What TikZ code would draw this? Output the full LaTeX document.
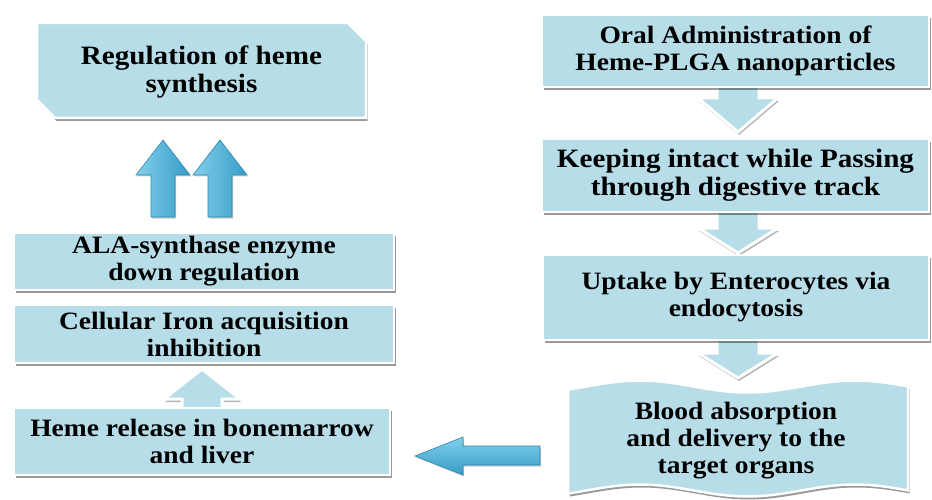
\documentclass[tikz,border=0pt]{standalone}
\usepackage{fontspec}
\newfontfamily\boxfont{Liberation Serif}[FakeStretch=1.1]
\usetikzlibrary{shadows}
\definecolor{boxblue}{RGB}{183,221,232}
\definecolor{arrowL}{RGB}{130,208,235}
\definecolor{arrowD}{RGB}{55,155,198}
\definecolor{arrowE}{RGB}{45,135,175}
\newcommand{\boxtext}{\boxfont\bfseries\fontsize{25}{27}\selectfont}
\newcommand{\bigboxtext}{\boxfont\bfseries\fontsize{26.5}{28}\selectfont}
\tikzset{
  boxshape/.style={fill=boxblue, draw=white, line width=2.5pt,
    drop shadow={shadow xshift=1.5pt, shadow yshift=-3pt, fill=black, opacity=0.4}},
  rectbox/.style={boxshape, rectangle, inner sep=0pt, align=center, font=\boxtext, text=black},
  txt/.style={inner sep=0pt, align=center, font=\boxtext, text=black},
  hollowarrow/.style={fill=boxblue, draw=white, line width=3pt, line join=miter,
    drop shadow={shadow xshift=1pt, shadow yshift=-3pt, fill=black, opacity=0.3}},
  solidarrowv/.style={left color=arrowL, right color=arrowD, draw=arrowE, line width=0.6pt,
    drop shadow={shadow xshift=1pt, shadow yshift=-1.5pt, fill=black, opacity=0.2}},
  solidarrowh/.style={top color=arrowL, bottom color=arrowD, draw=arrowE, line width=0.6pt,
    drop shadow={shadow xshift=1pt, shadow yshift=-1.5pt, fill=black, opacity=0.2}}
}
% hollow down arrow: centre x, shaft top, head top, tip
\newcommand{\hollowdown}[4]{%
  \path[hollowarrow] (#1-21,#2) -- (#1+21,#2) -- (#1+21,#3) -- (#1+40,#3) -- (#1,#4)
    -- (#1-40,#3) -- (#1-21,#3) -- cycle;}
% solid up arrow: centre x
\newcommand{\solidup}[1]{%
  \path[solidarrowv] (#1-12,217) -- (#1-12,175) -- (#1-27,175) -- (#1,140) -- (#1+27,175)
    -- (#1+12,175) -- (#1+12,217) -- cycle;}
\begin{document}
\begin{tikzpicture}[x=1pt,y=-1pt]
\useasboundingbox (0,0) rectangle (932,500);
\fill[white] (0,0) rectangle (932,500);

% ---- block arrows (behind the boxes) ----
\hollowdown{738}{78}{98}{132}
\hollowdown{738}{205}{228}{253}
\hollowdown{738}{333}{353}{378}
\path[hollowarrow] (182,416) -- (222,416) -- (222,399) -- (240,399) -- (202,369)
  -- (164,399) -- (182,399) -- cycle;
\solidup{163}
\solidup{220}
\path[solidarrowh] (540,446) -- (463,446) -- (463,437) -- (415,456) -- (463,475)
  -- (463,465) -- (540,465) -- cycle;

% ---- left column ----
\path[boxshape] (37,23) -- (348,23) -- (366,41) -- (366,118) -- (55,118) -- (37,100) -- cycle;
\node[txt, font=\bigboxtext] (reg) at (201.5,72) {Regulation of heme\\synthesis};

\node[rectbox, minimum width=380pt, minimum height=57pt] (ala) at (204,261.5)
  {ALA-synthase enzyme\\down regulation};
\node[rectbox, minimum width=380pt, minimum height=58pt] (iron) at (204,334)
  {Cellular Iron acquisition\\inhibition};
\node[rectbox, minimum width=376pt, minimum height=67pt] (heme) at (202,441.5)
  {Heme release in bonemarrow\\and liver};

% ---- right column ----
\node[rectbox, minimum width=387pt, minimum height=72pt] (oral) at (735.5,51)
  {Oral Administration of\\Heme-PLGA nanoparticles};
\node[rectbox, minimum width=387pt, minimum height=73pt, font=\bigboxtext] (keep) at (735.5,175.5)
  {Keeping intact while Passing\\through digestive track};
\node[rectbox, minimum width=386pt, minimum height=85pt] (uptake) at (736,297.5)
  {Uptake by Enterocytes via\\endocytosis};

\path[boxshape] plot[domain=568:908, samples=80, smooth] (\x,{386.5-6*cos((\x-640)/215*360)})
  -- plot[domain=908:568, samples=80, smooth] (\x,{490.5-6*cos((\x-640)/215*360)}) -- cycle;
\node[txt] (blood) at (736,441) {Blood absorption\\and delivery to the\\target organs};
\end{tikzpicture}
\end{document}
